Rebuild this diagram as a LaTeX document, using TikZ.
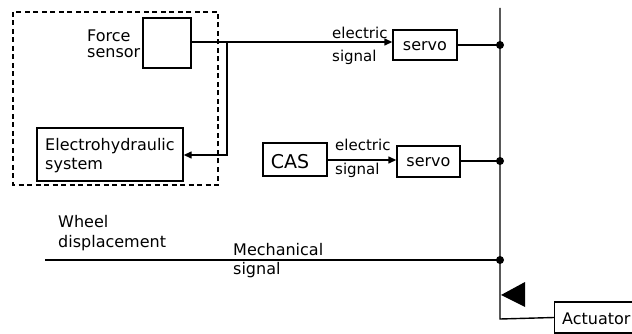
\documentclass[tikz,border=0pt]{standalone}
\usepackage{fontspec}
\setmainfont{DejaVu Sans}
\usetikzlibrary{arrows.meta}
\begin{document}
\begin{tikzpicture}[x=1pt,y=-1pt,
  box/.style={draw,line width=1.4pt,inner sep=0pt},
  wire/.style={line width=1.4pt},
  arr/.style={wire,-{Triangle[length=8pt,width=7pt]}},
  lbl/.style={font=\fontsize{16}{18}\selectfont,inner sep=0pt,anchor=base west},
  sm/.style={font=\fontsize{15}{18}\selectfont,inner sep=0pt,anchor=base west},
  dot/.style={circle,fill,inner sep=0pt,minimum size=8pt}]
\useasboundingbox (0,0) rectangle (632,334);
% dashed group
\draw[line width=1.4pt,dash pattern=on 5pt off 3.5pt] (13,12) rectangle (218,185);
% boxes
\node[box,minimum width=48pt,minimum height=50pt] (fs) at (167,43) {};
\node[box,minimum width=146pt,minimum height=53pt] (eh) at (110,154.5) {};
\node[box,minimum width=64pt,minimum height=30pt] (s1) at (425,45) {};
\node[box,minimum width=64pt,minimum height=33pt] (cas) at (295,159.5) {};
\node[box,minimum width=63pt,minimum height=31pt] (s2) at (428.5,161.5) {};
\node[box,minimum width=82pt,minimum height=31pt,anchor=west] (act) at (554,317.5) {};
% box texts
\node[lbl] (fs1) at (87,42) {Force};
\node[lbl] (fs2) at (87,58) {sensor};
\node[lbl] (eh1) at (45,151) {Electrohydraulic};
\node[lbl] (eh2) at (45,169) {system};
\node[lbl,anchor=base] (s1t) at (s1.center |- 0,51) {servo};
\node[lbl,anchor=base] (s2t) at (s2.center |- 0,167) {servo};
\node[font=\fontsize{19}{22}\selectfont,inner sep=0pt,anchor=base] (cast) at (290,168) {CAS};
\node[lbl] (actt) at (562,324) {Actuator};
% coordinates
\coordinate (top) at (500,8);
\coordinate (d1) at (500,45);
\coordinate (d2) at (500,161);
\coordinate (d3) at (500,260);
\coordinate (bot) at (500,319);
\coordinate (br) at (227,42);
\coordinate (mstart) at (45,260);
% wires
\draw[arr] (fs.east |- 0,42) -- (s1.west |- 0,42);
\draw[arr] (br) -- (227,155) -- (eh.east |- 0,155);
\draw[wire] (s1.east) -- (d1);
\draw[arr] (cas.east |- 0,160) -- (s2.west |- 0,160);
\draw[wire] (s2.east |- 0,161) -- (d2);
\draw[wire] (mstart) -- (d3);
\draw[wire] (top) -- (bot) -- (act.west);
\node[dot] at (d1) {};
\node[dot] at (d2) {};
\node[dot] at (d3) {};
% triangle
\fill (501,295) -- (525,282) -- (525,307) -- cycle;
% labels
\node[sm] (e1a) at (332,39) {electric};
\node[sm] (e1b) at (332,62) {signal};
\node[sm] (e2a) at (335,151) {electric};
\node[sm] (e2b) at (335,175) {signal};
\node[lbl] (wd1) at (58,227) {Wheel};
\node[lbl] (wd2) at (58,247) {displacement};
\node[lbl] (ms1) at (233,255) {Mechanical};
\node[lbl] (ms2) at (233,274) {signal};
\end{tikzpicture}
\end{document}
